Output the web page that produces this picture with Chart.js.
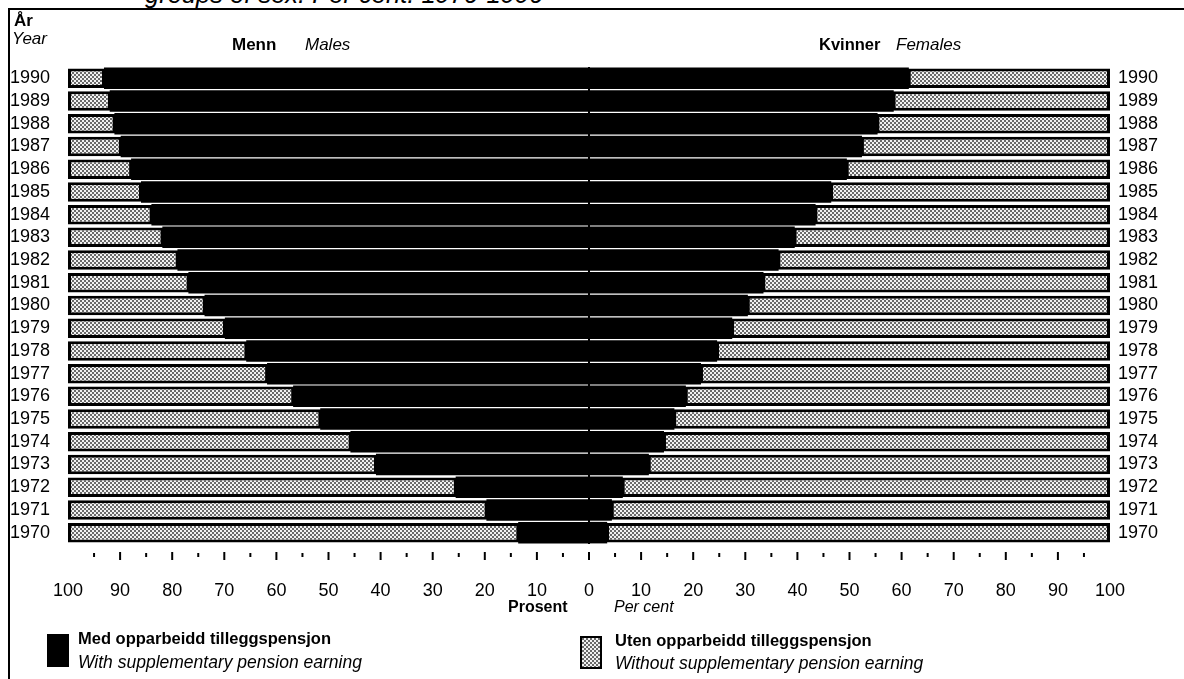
<!DOCTYPE html>
<html>
<head>
<meta charset="utf-8">
<script src="https://cdn.jsdelivr.net/npm/chart.js@4"></script>
<style>
  body { margin: 0; background: #fff; font-family: 'Liberation Sans', Arial, sans-serif; color: #000; }
  #wrap { position: relative; width: 1184px; height: 679px; overflow: hidden; }
  #frame { position: absolute; left: 8px; top: 8px; width: 1190px; height: 700px; border-left: 2px solid #000; border-top: 2px solid #000; }
  canvas { position: absolute; left: 0; top: 0; }
  .t { position: absolute; font-size: 16px; white-space: nowrap; }
  .b { font-weight: bold; }
  .i { font-style: italic; }
  .box { position: absolute; width: 22px; height: 33px; }
</style>
</head>
<body>
<div id="wrap">
  <div class="t i" style="left:145px; top:-20px; font-size:25.5px;">groups of sex. Per cent. 1970-1990</div>
  <div id="frame"></div>
  <canvas id="grafico" width="1184" height="679"></canvas>

  <div class="t b" style="left:14px; top:11px; font-size:17px;">År</div>
  <div class="t i" style="left:12px; top:29px; font-size:17px;">Year</div>
  <div class="t b" style="left:232px; top:35px; font-size:17px;">Menn</div>
  <div class="t i" style="left:305px; top:35px; font-size:17px;">Males</div>
  <div class="t b" style="left:819px; top:35px; font-size:16.5px;">Kvinner</div>
  <div class="t i" style="left:896px; top:35px; font-size:17px;">Females</div>

  <div class="t b" style="left:508px; top:598px;">Prosent</div>
  <div class="t i" style="left:614px; top:598px;">Per cent</div>

  <div class="box" style="left:47px; top:634px; background:#000;"></div>
  <div class="t b" style="left:78px; top:629px; font-size:16.5px;">Med opparbeidd tilleggspensjon</div>
  <div class="t i" style="left:78px; top:652px; font-size:17.5px;">With supplementary pension earning</div>

  <div class="box" id="legGray" style="left:580px; top:636px; width:18px; height:29px; border:2px solid #000;"></div>
  <div class="t b" style="left:615px; top:631px; font-size:16.5px;">Uten opparbeidd tilleggspensjon</div>
  <div class="t i" style="left:615px; top:653px; font-size:17.5px;">Without supplementary pension earning</div>
</div>

<script>
// anos, de cima para baixo
const anos = ['1990', '1989', '1988', '1987', '1986', '1985', '1984', '1983', '1982', '1981', '1980',
              '1979', '1978', '1977', '1976', '1975', '1974', '1973', '1972', '1971', '1970'];

// Menn: andel med opparbeidd tilleggspensjon (%)
const mennMed = [92.9, 91.8, 90.9, 89.7, 87.7, 85.8, 83.8, 81.7, 78.8, 76.7, 73.6,
                 69.7, 65.6, 61.6, 56.6, 51.4, 45.6, 40.7, 25.4, 19.5, 13.4];

// Kvinner: andel med opparbeidd tilleggspensjon (%)
const kvinnerMed = [61.2, 58.3, 55.2, 52.2, 49.3, 46.3, 43.3, 39.3, 36.2, 33.3, 30.3,
                    27.3, 24.4, 21.3, 18.4, 16.2, 14.2, 11.3, 6.3, 4.2, 3.3];

const tickVerdier = [0, 10, 20, 30, 40, 50, 60, 70, 80, 90, 100];

// raster-monster for "uten"
const tile = document.createElement('canvas');
tile.width = 4;
tile.height = 4;
const tctx = tile.getContext('2d');
tctx.fillStyle = '#f2f2f2';
tctx.fillRect(0, 0, 4, 4);
tctx.fillStyle = '#6a6a6a';
tctx.fillRect(0, 0, 2, 2);
tctx.fillRect(2, 2, 2, 2);
const ctx = document.getElementById('grafico').getContext('2d');
const raster = ctx.createPattern(tile, 'repeat');
document.getElementById('legGray').style.background = 'url(' + tile.toDataURL() + ')';

const fonte = { family: "'Liberation Sans', Arial, sans-serif", size: 18 };

// små streker under aksen
const strekPlugin = {
  id: 'streker',
  afterDraw(chart) {
    const x = chart.scales.x;
    const c = chart.ctx;
    c.save();
    c.strokeStyle = '#000';
    c.lineWidth = 2;
    for (let v = -95; v <= 95; v += 5) {
      const px = x.getPixelForValue(v);
      const lang = v % 10 === 0;
      c.beginPath();
      c.moveTo(px, lang ? 552 : 553);
      c.lineTo(px, lang ? 560 : 557);
      c.stroke();
    }
    c.restore();
  }
};

new Chart(ctx, {
  type: 'bar',
  data: {
    labels: anos,
    datasets: [
      {
        label: 'Menn med',
        data: mennMed.map(v => -v),
        backgroundColor: '#000',
        borderWidth: 0,
        inflateAmount: 1
      },
      {
        label: 'Menn uten',
        data: mennMed.map(v => -(100 - v)),
        backgroundColor: raster,
        borderColor: '#000',
        borderWidth: 3,
        borderSkipped: false,
        inflateAmount: 0
      },
      {
        label: 'Kvinner med',
        data: kvinnerMed,
        backgroundColor: '#000',
        borderWidth: 0,
        inflateAmount: 1
      },
      {
        label: 'Kvinner uten',
        data: kvinnerMed.map(v => 100 - v),
        backgroundColor: raster,
        borderColor: '#000',
        borderWidth: 3,
        borderSkipped: false,
        inflateAmount: 0
      }
    ]
  },
  options: {
    indexAxis: 'y',
    responsive: false,
    animation: false,
    barPercentage: 0.86,
    categoryPercentage: 1.0,
    layout: { padding: { left: 0, right: 0, top: 67, bottom: 0 } },
    plugins: { legend: { display: false }, tooltip: { enabled: false } },
    scales: {
      x: {
        stacked: true,
        min: -100,
        max: 100,
        afterBuildTicks: s => {
          s.ticks = tickVerdier.slice(1).reverse().map(v => ({ value: -v }))
            .concat(tickVerdier.map(v => ({ value: v })));
        },
        ticks: {
          callback: v => Math.abs(v),
          color: '#000',
          font: fonte,
          padding: 36,
          maxRotation: 0,
          autoSkip: false
        },
        grid: {
          drawTicks: false,
          color: c => (c.tick && c.tick.value === 0) ? '#000' : 'rgba(0,0,0,0)',
          lineWidth: 2
        },
        border: { display: false },
        afterFit: s => { s.height = 135; }
      },
      y: {
        stacked: true,
        ticks: { color: '#000', font: fonte, padding: 10, autoSkip: false },
        grid: { display: false },
        border: { display: false },
        afterFit: s => { s.width = 68; }
      },
      y2: {
        type: 'category',
        position: 'right',
        labels: anos,
        offset: true,
        ticks: { color: '#000', font: fonte, padding: 0, autoSkip: false },
        grid: { display: false },
        border: { display: false },
        afterFit: s => { s.width = 74; }
      }
    }
  },
  plugins: [strekPlugin]
});
</script>
</body>
</html>
